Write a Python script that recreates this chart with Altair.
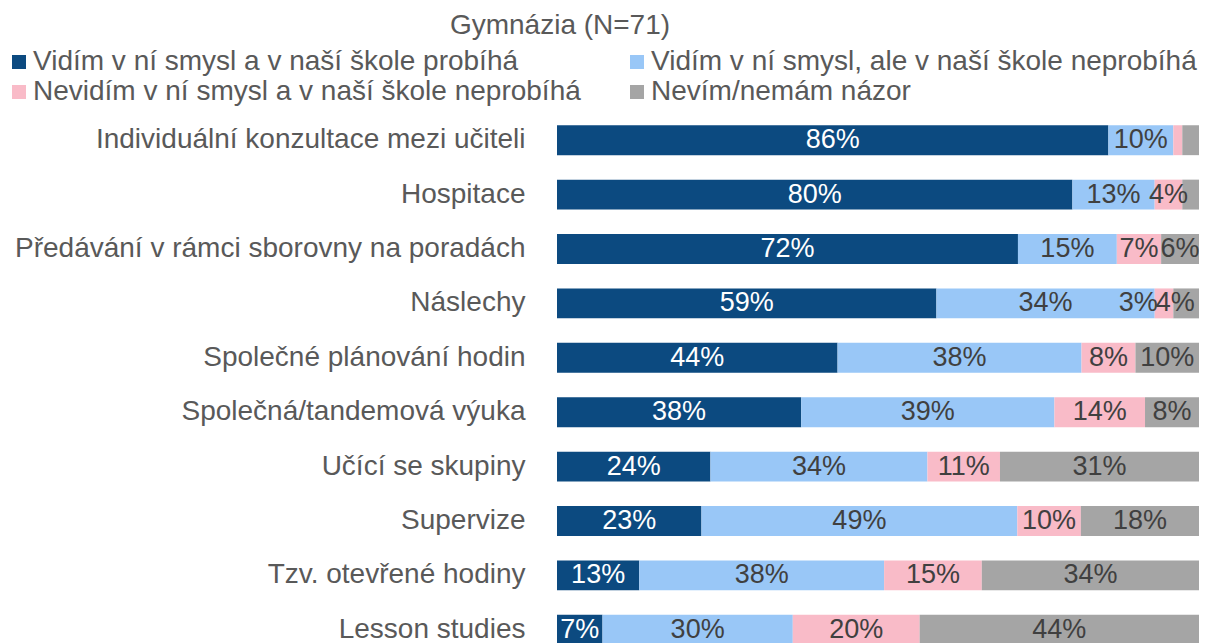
import altair as alt
import pandas as pd

categories = [
    "Individuální konzultace mezi učiteli",
    "Hospitace",
    "Předávání v rámci sborovny na poradách",
    "Náslechy",
    "Společné plánování hodin",
    "Společná/tandemová výuka",
    "Učící se skupiny",
    "Supervize",
    "Tzv. otevřené hodiny",
    "Lesson studies",
]
series = [
    "Vidím v ní smysl a v naší škole probíhá",
    "Vidím v ní smysl, ale v naší škole neprobíhá",
    "Nevidím v ní smysl a v naší škole neprobíhá",
    "Nevím/nemám názor",
]
v_probiha = [85.8, 80.2, 71.8, 59.1, 43.7, 38, 23.9, 22.5, 12.8, 7.1]
v_neprobiha = [10.1, 12.8, 15.4, 34, 38, 39.4, 33.8, 49.2, 38.1, 29.7]
v_nevidim = [1.4, 4.3, 6.9, 2.9, 8.4, 14.1, 11.3, 9.9, 15.2, 19.8]
v_nevim = [2.6, 2.6, 5.9, 4, 9.9, 8.4, 31, 18.4, 33.8, 43.6]
colors = ["#0c4a80", "#99c7f7", "#f9bbc8", "#a5a5a5"]

FONT = "Liberation Sans"

rows = []
for i, c in enumerate(categories):
    for j, vals in enumerate([v_probiha, v_neprobiha, v_nevidim, v_nevim]):
        rows.append({"cat": c, "series": series[j], "order": j, "value": vals[i]})
df = pd.DataFrame(rows)

base = (
    alt.Chart(df)
    .transform_joinaggregate(total="sum(value)", groupby=["cat"])
    .transform_calculate(pct="datum.value / datum.total")
    .transform_stack(stack="pct", as_=["x0", "x1"], groupby=["cat"],
                     sort=[alt.SortField("order", order="ascending")])
    .transform_calculate(
        mid="(datum.x0 + datum.x1) / 2",
        label="round(datum.value) + '%'",
        # the two tiny labels of "Náslechy" are nudged left, as in the original
        nudge="datum.cat == 'Náslechy' ? (datum.order == 2 ? -0.04 : (datum.order == 3 ? -0.017 : 0)) : 0",
    )
    .transform_calculate(lx="datum.mid + datum.nudge")
)

yenc = alt.Y(
    "cat:N", sort=categories,
    scale=alt.Scale(paddingInner=0.45, paddingOuter=0.225),
    axis=alt.Axis(title=None, domain=False, ticks=False, labelFontSize=28,
                  labelFont=FONT, labelColor="#595959", labelPadding=32,
                  labelLimit=1000),
)

bars = base.mark_bar().encode(
    y=yenc,
    x=alt.X("x0:Q", scale=alt.Scale(domain=[0, 1]), axis=None),
    x2="x1:Q",
    color=alt.Color(
        "series:N", scale=alt.Scale(domain=series, range=colors),
        legend=alt.Legend(
            title=None, orient="none", legendX=-552, legendY=-65, columns=2,
            direction="horizontal",
            columnPadding=42, rowPadding=2, symbolType="square",
            symbolSize=196, symbolStrokeWidth=0, labelFontSize=28,
            labelFont=FONT, labelColor="#595959", labelLimit=1000,
            labelOffset=0,
        ),
    ),
)

text = base.transform_filter("datum.value >= 2.75").mark_text(
    fontSize=27, font=FONT
).encode(
    y=alt.Y("cat:N", sort=categories),
    x=alt.X("lx:Q"),
    text="label:N",
    color=alt.condition("datum.order == 0", alt.value("white"), alt.value("#404040")),
)

chart = (
    alt.layer(bars, text)
    .properties(
        width=642, height=544,
        autosize=alt.AutoSizeParams(type="none"),
        padding={"left": 549, "top": 105, "right": 0, "bottom": 0},
        title=alt.TitleParams("Gymnázia (N=71)", fontSize=28, font=FONT,
                              color="#595959", fontWeight="normal",
                              anchor="middle", dx=-318, offset=8),
    )
    .configure_view(stroke=None)
)

chart.save("out.html", embed_options={"renderer": "svg", "actions": False})
